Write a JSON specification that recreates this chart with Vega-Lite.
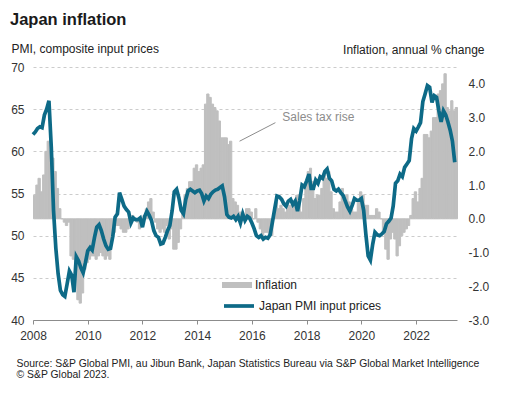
{
  "$schema": "https://vega.github.io/schema/vega-lite/v6.json",
  "width": 424,
  "height": 253,
  "autosize": {"type": "none"},
  "padding": {"left": 33, "top": 67, "right": 49, "bottom": 78},
  "background": "white",
  "config": {"view": {"stroke": null}, "font": "Liberation Sans"},
  "title": {"text": "Japan inflation", "anchor": "start", "frame": "group", "fontSize": 16.5, "fontWeight": "bold", "font": "Liberation Sans", "color": "#1a1a1a", "dx": -23, "offset": 14},
  "datasets": {
    "m": [
      {"d":"2008/01/01","cpi":0.7,"pmi":62.0},{"d":"2008/02/01","cpi":1.0,"pmi":62.3},{"d":"2008/03/01","cpi":1.2,"pmi":62.7},{"d":"2008/04/01","cpi":0.8,"pmi":62.9},{"d":"2008/05/01","cpi":1.3,"pmi":62.8},{"d":"2008/06/01","cpi":2.0,"pmi":64.3},{"d":"2008/07/01","cpi":2.3,"pmi":65.0},{"d":"2008/08/01","cpi":2.0,"pmi":66.0},{"d":"2008/09/01","cpi":1.8,"pmi":60.5},{"d":"2008/10/01","cpi":1.4,"pmi":53.0},{"d":"2008/11/01","cpi":0.9,"pmi":48.5},{"d":"2008/12/01","cpi":0.3,"pmi":45.5},
      {"d":"2009/01/01","cpi":0.0,"pmi":43.5},{"d":"2009/02/01","cpi":-0.1,"pmi":43.0},{"d":"2009/03/01","cpi":-0.2,"pmi":42.8},{"d":"2009/04/01","cpi":-0.1,"pmi":44.3},{"d":"2009/05/01","cpi":-1.1,"pmi":45.8},{"d":"2009/06/01","cpi":-1.2,"pmi":45.3},{"d":"2009/07/01","cpi":-1.8,"pmi":43.3},{"d":"2009/08/01","cpi":-2.4,"pmi":47.5},{"d":"2009/09/01","cpi":-2.5,"pmi":47.0},{"d":"2009/10/01","cpi":-2.2,"pmi":46.2},{"d":"2009/11/01","cpi":-1.5,"pmi":45.6},{"d":"2009/12/01","cpi":-1.3,"pmi":46.8},
      {"d":"2010/01/01","cpi":-1.2,"pmi":48.2},{"d":"2010/02/01","cpi":-1.1,"pmi":48.6},{"d":"2010/03/01","cpi":-1.1,"pmi":48.3},{"d":"2010/04/01","cpi":-1.2,"pmi":49.8},{"d":"2010/05/01","cpi":-1.1,"pmi":51.0},{"d":"2010/06/01","cpi":-1.0,"pmi":51.3},{"d":"2010/07/01","cpi":-1.1,"pmi":50.6},{"d":"2010/08/01","cpi":-1.2,"pmi":49.6},{"d":"2010/09/01","cpi":-1.1,"pmi":48.8},{"d":"2010/10/01","cpi":-1.2,"pmi":48.4},{"d":"2010/11/01","cpi":-0.5,"pmi":48.5},{"d":"2010/12/01","cpi":-0.4,"pmi":49.9},
      {"d":"2011/01/01","cpi":-0.2,"pmi":52.2},{"d":"2011/02/01","cpi":-0.2,"pmi":52.6},{"d":"2011/03/01","cpi":-0.3,"pmi":55.1},{"d":"2011/04/01","cpi":-0.4,"pmi":54.3},{"d":"2011/05/01","cpi":-0.4,"pmi":53.5},{"d":"2011/06/01","cpi":-0.3,"pmi":53.1},{"d":"2011/07/01","cpi":-0.1,"pmi":52.8},{"d":"2011/08/01","cpi":0.1,"pmi":51.5},{"d":"2011/09/01","cpi":0.0,"pmi":52.1},{"d":"2011/10/01","cpi":-0.1,"pmi":51.9},{"d":"2011/11/01","cpi":-0.3,"pmi":51.9},{"d":"2011/12/01","cpi":-0.2,"pmi":52.1},
      {"d":"2012/01/01","cpi":0.1,"pmi":51.0},{"d":"2012/02/01","cpi":0.3,"pmi":52.3},{"d":"2012/03/01","cpi":0.5,"pmi":52.9},{"d":"2012/04/01","cpi":0.6,"pmi":52.4},{"d":"2012/05/01","cpi":0.2,"pmi":51.8},{"d":"2012/06/01","cpi":-0.1,"pmi":50.6},{"d":"2012/07/01","cpi":-0.3,"pmi":50.0},{"d":"2012/08/01","cpi":-0.4,"pmi":49.8},{"d":"2012/09/01","cpi":-0.3,"pmi":49.0},{"d":"2012/10/01","cpi":-0.4,"pmi":49.1},{"d":"2012/11/01","cpi":-0.2,"pmi":49.8},{"d":"2012/12/01","cpi":-0.6,"pmi":50.6},
      {"d":"2013/01/01","cpi":-0.3,"pmi":51.2},{"d":"2013/02/01","cpi":-0.9,"pmi":53.0},{"d":"2013/03/01","cpi":-0.9,"pmi":55.2},{"d":"2013/04/01","cpi":-0.7,"pmi":55.5},{"d":"2013/05/01","cpi":-0.3,"pmi":54.5},{"d":"2013/06/01","cpi":0.2,"pmi":53.0},{"d":"2013/07/01","cpi":0.7,"pmi":52.6},{"d":"2013/08/01","cpi":0.9,"pmi":54.3},{"d":"2013/09/01","cpi":1.1,"pmi":55.3},{"d":"2013/10/01","cpi":1.1,"pmi":55.5},{"d":"2013/11/01","cpi":1.5,"pmi":55.3},{"d":"2013/12/01","cpi":1.6,"pmi":55.1},
      {"d":"2014/01/01","cpi":1.4,"pmi":55.3},{"d":"2014/02/01","cpi":1.5,"pmi":55.4},{"d":"2014/03/01","cpi":1.6,"pmi":55.0},{"d":"2014/04/01","cpi":3.4,"pmi":54.1},{"d":"2014/05/01","cpi":3.7,"pmi":54.7},{"d":"2014/06/01","cpi":3.6,"pmi":54.4},{"d":"2014/07/01","cpi":3.4,"pmi":54.9},{"d":"2014/08/01","cpi":3.3,"pmi":55.2},{"d":"2014/09/01","cpi":3.2,"pmi":55.4},{"d":"2014/10/01","cpi":2.9,"pmi":55.5},{"d":"2014/11/01","cpi":2.4,"pmi":55.7},{"d":"2014/12/01","cpi":2.4,"pmi":55.9},
      {"d":"2015/01/01","cpi":2.4,"pmi":54.6},{"d":"2015/02/01","cpi":2.2,"pmi":52.5},{"d":"2015/03/01","cpi":2.3,"pmi":52.2},{"d":"2015/04/01","cpi":0.6,"pmi":52.1},{"d":"2015/05/01","cpi":0.5,"pmi":52.3},{"d":"2015/06/01","cpi":0.4,"pmi":51.9},{"d":"2015/07/01","cpi":0.2,"pmi":52.3},{"d":"2015/08/01","cpi":0.2,"pmi":51.5},{"d":"2015/09/01","cpi":0.0,"pmi":52.6},{"d":"2015/10/01","cpi":0.3,"pmi":51.8},{"d":"2015/11/01","cpi":0.3,"pmi":52.3},{"d":"2015/12/01","cpi":0.2,"pmi":52.1},
      {"d":"2016/01/01","cpi":0.0,"pmi":51.5},{"d":"2016/02/01","cpi":0.3,"pmi":50.8},{"d":"2016/03/01","cpi":-0.1,"pmi":50.0},{"d":"2016/04/01","cpi":-0.3,"pmi":49.8},{"d":"2016/05/01","cpi":-0.5,"pmi":50.0},{"d":"2016/06/01","cpi":-0.4,"pmi":49.6},{"d":"2016/07/01","cpi":-0.4,"pmi":49.8},{"d":"2016/08/01","cpi":-0.5,"pmi":49.7},{"d":"2016/09/01","cpi":-0.5,"pmi":50.1},{"d":"2016/10/01","cpi":0.1,"pmi":51.6},{"d":"2016/11/01","cpi":0.5,"pmi":53.2},{"d":"2016/12/01","cpi":0.3,"pmi":54.7},
      {"d":"2017/01/01","cpi":0.4,"pmi":54.6},{"d":"2017/02/01","cpi":0.3,"pmi":54.3},{"d":"2017/03/01","cpi":0.2,"pmi":53.8},{"d":"2017/04/01","cpi":0.4,"pmi":53.5},{"d":"2017/05/01","cpi":0.4,"pmi":54.1},{"d":"2017/06/01","cpi":0.4,"pmi":54.3},{"d":"2017/07/01","cpi":0.4,"pmi":53.7},{"d":"2017/08/01","cpi":0.7,"pmi":54.1},{"d":"2017/09/01","cpi":0.7,"pmi":52.9},{"d":"2017/10/01","cpi":0.2,"pmi":54.2},{"d":"2017/11/01","cpi":0.6,"pmi":56.0},{"d":"2017/12/01","cpi":1.0,"pmi":55.8},
      {"d":"2018/01/01","cpi":1.4,"pmi":56.5},{"d":"2018/02/01","cpi":1.5,"pmi":57.3},{"d":"2018/03/01","cpi":1.1,"pmi":55.6},{"d":"2018/04/01","cpi":0.6,"pmi":55.6},{"d":"2018/05/01","cpi":0.7,"pmi":56.6},{"d":"2018/06/01","cpi":0.7,"pmi":56.2},{"d":"2018/07/01","cpi":0.9,"pmi":57.0},{"d":"2018/08/01","cpi":1.3,"pmi":56.8},{"d":"2018/09/01","cpi":1.2,"pmi":57.6},{"d":"2018/10/01","cpi":1.4,"pmi":57.9},{"d":"2018/11/01","cpi":0.8,"pmi":56.8},{"d":"2018/12/01","cpi":0.3,"pmi":56.5},
      {"d":"2019/01/01","cpi":0.2,"pmi":55.5},{"d":"2019/02/01","cpi":0.2,"pmi":55.3},{"d":"2019/03/01","cpi":0.5,"pmi":55.5},{"d":"2019/04/01","cpi":0.9,"pmi":55.1},{"d":"2019/05/01","cpi":0.7,"pmi":54.8},{"d":"2019/06/01","cpi":0.7,"pmi":54.1},{"d":"2019/07/01","cpi":0.5,"pmi":53.4},{"d":"2019/08/01","cpi":0.3,"pmi":52.9},{"d":"2019/09/01","cpi":0.2,"pmi":53.6},{"d":"2019/10/01","cpi":0.2,"pmi":54.4},{"d":"2019/11/01","cpi":0.5,"pmi":54.2},{"d":"2019/12/01","cpi":0.8,"pmi":54.2},
      {"d":"2020/01/01","cpi":0.7,"pmi":54.4},{"d":"2020/02/01","cpi":0.4,"pmi":53.0},{"d":"2020/03/01","cpi":0.4,"pmi":50.2},{"d":"2020/04/01","cpi":0.1,"pmi":47.6},{"d":"2020/05/01","cpi":0.1,"pmi":47.1},{"d":"2020/06/01","cpi":0.1,"pmi":49.0},{"d":"2020/07/01","cpi":0.3,"pmi":50.4},{"d":"2020/08/01","cpi":0.2,"pmi":50.1},{"d":"2020/09/01","cpi":0.0,"pmi":50.0},{"d":"2020/10/01","cpi":-0.4,"pmi":50.2},{"d":"2020/11/01","cpi":-0.9,"pmi":50.5},{"d":"2020/12/01","cpi":-1.2,"pmi":51.4},
      {"d":"2021/01/01","cpi":-0.6,"pmi":51.7},{"d":"2021/02/01","cpi":-0.4,"pmi":52.1},{"d":"2021/03/01","cpi":-0.6,"pmi":53.5},{"d":"2021/04/01","cpi":-1.1,"pmi":56.2},{"d":"2021/05/01","cpi":-0.8,"pmi":56.5},{"d":"2021/06/01","cpi":-0.5,"pmi":57.3},{"d":"2021/07/01","cpi":-0.4,"pmi":57.0},{"d":"2021/08/01","cpi":-0.3,"pmi":58.1},{"d":"2021/09/01","cpi":-0.2,"pmi":58.5},{"d":"2021/10/01","cpi":0.1,"pmi":58.9},{"d":"2021/11/01","cpi":0.6,"pmi":61.5},{"d":"2021/12/01","cpi":0.8,"pmi":62.7},
      {"d":"2022/01/01","cpi":0.5,"pmi":62.4},{"d":"2022/02/01","cpi":0.9,"pmi":62.9},{"d":"2022/03/01","cpi":1.2,"pmi":63.4},{"d":"2022/04/01","cpi":2.5,"pmi":65.9},{"d":"2022/05/01","cpi":2.5,"pmi":66.8},{"d":"2022/06/01","cpi":2.4,"pmi":67.8},{"d":"2022/07/01","cpi":2.6,"pmi":67.6},{"d":"2022/08/01","cpi":3.0,"pmi":65.8},{"d":"2022/09/01","cpi":3.0,"pmi":66.6},{"d":"2022/10/01","cpi":3.7,"pmi":66.4},{"d":"2022/11/01","cpi":3.8,"pmi":64.8},{"d":"2022/12/01","cpi":4.0,"pmi":63.5},
      {"d":"2023/01/01","cpi":4.3,"pmi":64.8},{"d":"2023/02/01","cpi":3.3,"pmi":64.3},{"d":"2023/03/01","cpi":3.2,"pmi":63.5},{"d":"2023/04/01","cpi":3.5,"pmi":62.5},{"d":"2023/05/01","cpi":3.2,"pmi":61.2},{"d":"2023/06/01","cpi":3.3,"pmi":58.7}
    ],
    "ann": [
      {"d1":"2015/07/20","p1":61.2,"d2":"2016/11/10","p2":63.4,"td":"2017/02/10","tp":64.1,"label":"Sales tax rise"}
    ]
  },
  "layer": [
    {
      "data": {"name": "m"},
      "mark": {"type": "bar", "color": "#bfbfbf", "binSpacing": 0, "stroke": "#bfbfbf", "strokeWidth": 1},
      "encoding": {
        "x": {"field": "d", "type": "temporal", "timeUnit": "yearmonth",
          "scale": {"domain": [{"year": 2008, "month": 1, "date": 1}, {"year": 2023, "month": 7, "date": 1}]},
          "axis": {"values": [{"year": 2008, "month": 1, "date": 1}, {"year": 2010, "month": 1, "date": 1}, {"year": 2012, "month": 1, "date": 1}, {"year": 2014, "month": 1, "date": 1}, {"year": 2016, "month": 1, "date": 1}, {"year": 2018, "month": 1, "date": 1}, {"year": 2020, "month": 1, "date": 1}, {"year": 2022, "month": 1, "date": 1}],
            "format": "%Y", "labelFlush": false, "labelOverlap": false, "grid": false, "domainColor": "#8c8c8c", "tickColor": "#8c8c8c", "tickSize": 4, "labelPadding": 6, "labelFontSize": 12, "labelColor": "#333333",
            "title": ["Source: S&P Global PMI, au Jibun Bank, Japan Statistics Bureau via S&P Global Market Intelligence", "© S&P Global 2023."],
            "titleFontSize": 10.4, "titleFontWeight": "normal", "titleColor": "#222222", "titleAnchor": "start", "titleAlign": "left", "titleX": -17, "titleY": 46, "titleBaseline": "alphabetic", "titleLineHeight": 11}
        },
        "y": {"field": "cpi", "type": "quantitative", "scale": {"domain": [-3, 4.5], "nice": false, "zero": false},
          "axis": {"orient": "right", "values": [-3, -2, -1, 0, 1, 2, 3, 4], "format": ".1f", "labelExpr": "replace(datum.label, '\u2212', '-')", "grid": false, "domain": false, "ticks": false, "labelPadding": 11, "labelFontSize": 12, "labelColor": "#333333",
            "title": "Inflation, annual % change", "titleAngle": 0, "titleAlign": "right", "titleX": 27, "titleY": -14, "titleBaseline": "alphabetic", "titleFontSize": 12, "titleFontWeight": "normal", "titleColor": "#222222"}
        },
        "fill": {"datum": "Inflation", "type": "nominal", "scale": {"range": ["#bfbfbf"]},
          "legend": {"title": null, "orient": "none", "legendX": 189, "legendY": 203, "symbolType": "M-1,-0.2H1V0.2H-1Z", "symbolSize": 900, "symbolStrokeWidth": 0, "labelFontSize": 12, "labelColor": "#222222", "labelOffset": 3, "padding": 0}}
      }
    },
    {
      "layer": [
        {
          "data": {"name": "ann"},
          "mark": {"type": "rule", "color": "#8c8c8c", "strokeWidth": 1},
          "encoding": {
            "x": {"field": "d1", "type": "temporal", "title": ["Source: S&P Global PMI, au Jibun Bank, Japan Statistics Bureau via S&P Global Market Intelligence", "© S&P Global 2023."]},
            "x2": {"field": "d2"},
            "y": {"field": "p1", "type": "quantitative", "title": "PMI, composite input prices"},
            "y2": {"field": "p2"}
          }
        },
        {
          "data": {"name": "ann"},
          "mark": {"type": "text", "align": "left", "baseline": "middle", "fontSize": 12, "color": "#8c8c8c"},
          "encoding": {
            "x": {"field": "td", "type": "temporal", "title": ["Source: S&P Global PMI, au Jibun Bank, Japan Statistics Bureau via S&P Global Market Intelligence", "© S&P Global 2023."]},
            "y": {"field": "tp", "type": "quantitative", "title": "PMI, composite input prices"},
            "text": {"field": "label"}
          }
        },
        {
          "data": {"name": "m"},
          "mark": {"type": "line", "strokeWidth": 3.7},
          "encoding": {
            "x": {"field": "d", "type": "temporal",
              "scale": {"domain": [{"year": 2008, "month": 1, "date": 1}, {"year": 2023, "month": 7, "date": 1}]},
              "axis": {"values": [{"year": 2008, "month": 1, "date": 1}, {"year": 2010, "month": 1, "date": 1}, {"year": 2012, "month": 1, "date": 1}, {"year": 2014, "month": 1, "date": 1}, {"year": 2016, "month": 1, "date": 1}, {"year": 2018, "month": 1, "date": 1}, {"year": 2020, "month": 1, "date": 1}, {"year": 2022, "month": 1, "date": 1}],
                "format": "%Y", "labelFlush": false, "labelOverlap": false, "grid": false, "domainColor": "#8c8c8c", "tickColor": "#8c8c8c", "tickSize": 4, "labelPadding": 6, "labelFontSize": 12, "labelColor": "#333333",
                "title": ["Source: S&P Global PMI, au Jibun Bank, Japan Statistics Bureau via S&P Global Market Intelligence", "© S&P Global 2023."],
                "titleFontSize": 10.4, "titleFontWeight": "normal", "titleColor": "#222222", "titleAnchor": "start", "titleAlign": "left", "titleX": -17, "titleY": 46, "titleBaseline": "alphabetic", "titleLineHeight": 11}
            },
            "y": {"field": "pmi", "type": "quantitative", "scale": {"domain": [40, 70], "nice": false, "zero": false},
              "axis": {"orient": "left", "values": [40, 45, 50, 55, 60, 65, 70], "grid": true, "gridDash": [3, 3], "gridColor": "#cccccc", "domain": false, "ticks": false, "labelPadding": 9, "labelFontSize": 12, "labelColor": "#333333",
                "title": "PMI, composite input prices", "titleAngle": 0, "titleAlign": "left", "titleX": -22, "titleY": -15, "titleBaseline": "alphabetic", "titleFontSize": 12, "titleFontWeight": "normal", "titleColor": "#222222"}
            },
            "stroke": {"datum": "Japan PMI input prices", "type": "nominal", "scale": {"range": ["#0d6a87"]},
              "legend": {"title": null, "orient": "none", "legendX": 189, "legendY": 222, "symbolType": "stroke", "symbolSize": 900, "symbolStrokeWidth": 3.7, "labelFontSize": 12, "labelColor": "#222222", "labelOffset": 3, "padding": 0}}
          }
        }
      ]
    }
  ],
  "resolve": {"scale": {"y": "independent"}}
}
